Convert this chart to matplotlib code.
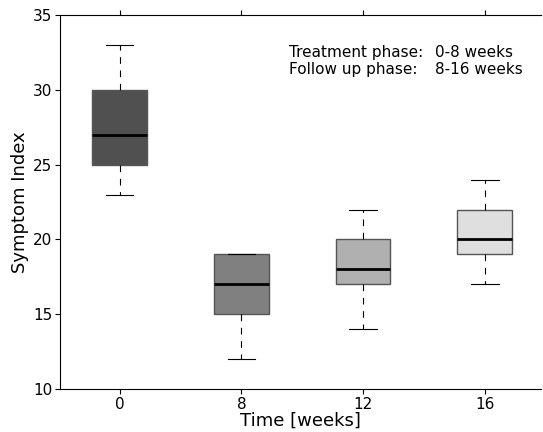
import matplotlib.pyplot as plt

# time points and box statistics
weeks = ['0', '8', '12', '16']
whislo = [23, 12, 14, 17]
q1 = [25, 15, 17, 19]
med = [27, 17, 18, 20]
q3 = [30, 19, 20, 22]
whishi = [33, 19, 22, 24]
box_colors = ['#505050', '#808080', '#b0b0b0', '#dfdfdf']

stats = []
for i in range(len(weeks)):
    stats.append({'whislo': whislo[i], 'q1': q1[i], 'med': med[i],
                  'q3': q3[i], 'whishi': whishi[i], 'fliers': []})

fig = plt.figure(figsize=(5.43, 4.32), dpi=100)
ax = fig.add_axes([0.1105, 0.0995, 0.8855, 0.8655])

bp = ax.bxp(stats, positions=range(1, len(weeks) + 1), widths=0.45,
            patch_artist=True, showfliers=False,
            boxprops=dict(edgecolor='#555555', linewidth=1),
            whiskerprops=dict(color='black', linestyle=(0, (6, 6)), linewidth=0.8),
            capprops=dict(color='black', linewidth=0.8),
            medianprops=dict(color='black', linewidth=2))
for patch, c in zip(bp['boxes'], box_colors):
    patch.set_facecolor(c)

ax.set_xlim(0.51, 4.46)
ax.set_ylim(10, 35)
ax.set_xticks(range(1, len(weeks) + 1))
ax.set_xticklabels(weeks)
ax.set_yticks([10, 15, 20, 25, 30, 35])
ax.spines['right'].set_visible(False)
ax.tick_params(axis='x', top=True, direction='out', labelsize=11, pad=2)
ax.tick_params(axis='y', direction='out', labelsize=11, pad=2)

ax.set_xlabel('Time [weeks]', fontsize=13, labelpad=0)
ax.set_ylabel('Symptom Index', fontsize=13, labelpad=3)

ax.text(289, 387, 'Treatment phase:\nFollow up phase:', transform=None,
        fontsize=11, va='top', ha='left', linespacing=1.2)
ax.text(435, 387, '0-8 weeks\n8-16 weeks', transform=None,
        fontsize=11, va='top', ha='left', linespacing=1.2)

fig.savefig('out.png', dpi=100)
